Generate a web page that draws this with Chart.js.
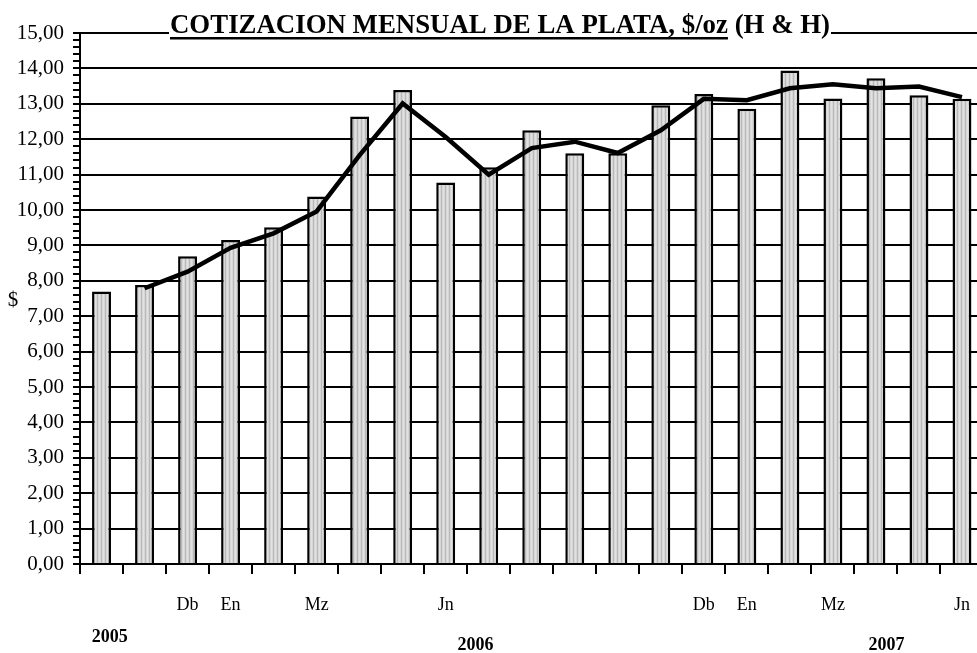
<!DOCTYPE html>
<html>
<head>
<meta charset="utf-8">
<script src="https://cdn.jsdelivr.net/npm/chart.js@4.4.1/dist/chart.umd.min.js"></script>
<style>
  body { margin: 0; background: #fff; overflow: hidden; }
  #wrap { width: 977px; height: 653px; overflow: hidden; }
</style>
</head>
<body>
<div id="wrap"><canvas id="myChart" width="990" height="653"></canvas></div>
<script>
// Oct 2005 .. Jun 2007, only some months are labelled on the axis
const months = ['', '', 'Db', 'En', '', 'Mz', '', '', 'Jn', '', '', '', '', '', 'Db', 'En', '', 'Mz', '', '', 'Jn'];
const monthly = [7.70, 7.88, 8.69, 9.15, 9.51, 10.38, 12.64, 13.39, 10.78, 11.21, 12.25, 11.60, 11.60, 12.96, 13.28, 12.86, 13.94, 13.15, 13.72, 13.24, 13.14];
const average = [null, 7.79, 8.26, 8.93, 9.34, 9.96, 11.55, 13.01, 12.06, 11.00, 11.75, 11.93, 11.61, 12.25, 13.14, 13.10, 13.44, 13.55, 13.44, 13.49, 13.19];
const years = ['2005', '2006', '2007'];
const yearPos = [0.1, 8.6, 18.15];

const titleMain = 'COTIZACION MENSUAL DE LA PLATA, $/oz';
const titleRest = ' (H & H)';

function isWhole(v) {
    return Math.abs(v - Math.round(v)) < 1e-6;
}

// light grey fill with thin vertical stripes
const pc = document.createElement('canvas');
pc.width = 4; pc.height = 4;
const px = pc.getContext('2d');
px.fillStyle = '#d6d6d6'; px.fillRect(0, 0, 4, 4);
px.fillStyle = '#b9b9b9'; px.fillRect(1, 0, 1, 4);
px.fillStyle = '#e2e2e2'; px.fillRect(3, 0, 1, 4);

const ctx = document.getElementById('myChart').getContext('2d');
const barFill = ctx.createPattern(pc, 'repeat');

const extras = {
    id: 'extras',
    afterDraw(chart) {
        const c = chart.ctx;
        const x = chart.scales.x;
        const top = chart.chartArea.top;
        c.save();
        c.fillStyle = '#000';

        // title over the top grid line
        c.font = 'bold 27px "Liberation Serif"';
        const wMain = c.measureText(titleMain).width;
        const wAll = c.measureText(titleMain + titleRest).width;
        const left = 170, right = 830;
        const sx = (right - left) / wAll;
        c.fillStyle = '#fff';
        c.fillRect(left - 1, top - 3, right - left + 2, 6);
        c.fillStyle = '#000';
        c.save();
        c.translate(left, top);
        c.scale(sx, 1);
        c.textAlign = 'left';
        c.textBaseline = 'alphabetic';
        c.fillText(titleMain + titleRest, 0, 0);
        c.restore();
        c.fillRect(left, top + 4, wMain * sx, 2.5);

        // "$" unit label
        c.font = '21px "Liberation Serif"';
        c.textAlign = 'center';
        c.textBaseline = 'middle';
        c.fillText('$', 13, chart.scales.y.getPixelForValue(7.45));

        // years
        c.font = 'bold 18px "Liberation Serif"';
        years.forEach((t, i) => {
            const yy = i === 0 ? 637 : 645;
            c.fillText(t, x.getPixelForValue(yearPos[i]) + 4, yy);
        });
        c.restore();
    }
};

const myChart = new Chart(ctx, {
    type: 'bar',
    data: {
        labels: months,
        datasets: [{
            type: 'line',
            data: average,
            borderColor: '#000',
            borderWidth: 4.5,
            pointRadius: 0,
            tension: 0,
            fill: false,
            order: 0,
        }, {
            type: 'bar',
            data: monthly,
            backgroundColor: barFill,
            borderColor: '#000',
            borderWidth: 2.5,
            borderSkipped: 'bottom',
            categoryPercentage: 1,
            barPercentage: 0.44,
            order: 1,
        }]
    },
    options: {
        responsive: false,
        animation: false,
        layout: { padding: { top: 33, right: 1, left: 0, bottom: 0 } },
        plugins: {
            legend: { display: false },
            tooltip: { enabled: false },
        },
        scales: {
            x: {
                afterFit(s) { s.height = 89; },
                grid: {
                    offset: true,
                    drawOnChartArea: false,
                    color: '#000',
                    tickColor: '#000',
                    tickLength: 10,
                    lineWidth: 2,
                },
                border: { color: '#000', width: 2 },
                ticks: {
                    color: '#000',
                    font: { family: 'Liberation Serif', size: 18 },
                    padding: 20,
                    autoSkip: false,
                    maxRotation: 0,
                },
            },
            y: {
                min: 0,
                max: 15,
                afterFit(s) { s.width = 80; },
                grid: {
                    color: (c) => isWhole(c.tick.value) ? '#000' : 'rgba(0,0,0,0)',
                    tickColor: '#000',
                    tickLength: 7,
                    lineWidth: 2,
                },
                border: { color: '#000', width: 2 },
                ticks: {
                    stepSize: 0.2,
                    maxTicksLimit: 100,
                    autoSkip: false,
                    color: '#000',
                    padding: 9,
                    font: { family: 'Liberation Serif', size: 21 },
                    callback: (v) => isWhole(v) ? Math.round(v).toFixed(2).replace('.', ',') : '',
                },
            }
        }
    },
    plugins: [extras]
});
</script>
</body>
</html>
